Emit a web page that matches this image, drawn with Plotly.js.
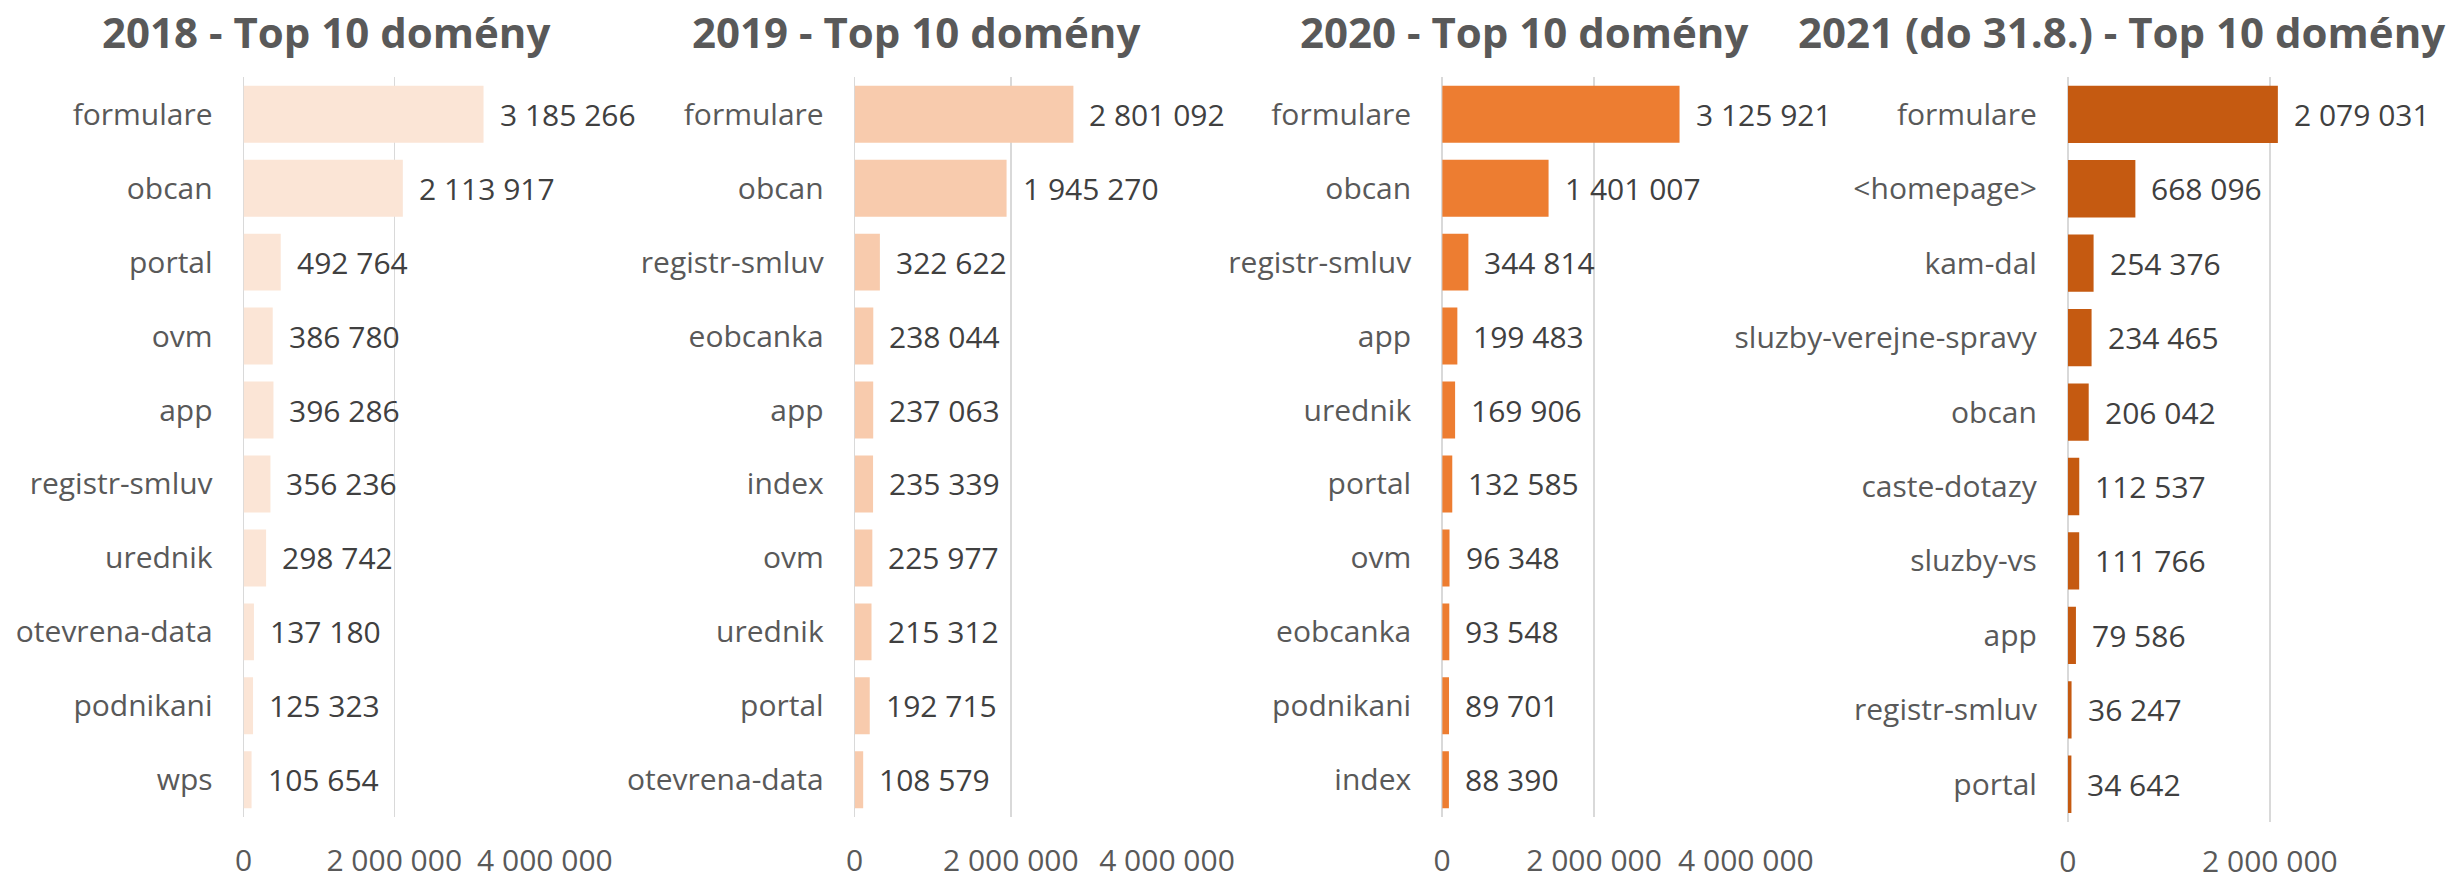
<!DOCTYPE html>
<html>
<head>
<meta charset="utf-8">
<script src="https://cdn.plot.ly/plotly-3.0.1.min.js"></script>
<style>
  html, body { margin: 0; padding: 0; background: #fff; }
  #plt1 { width: 2456px; height: 880px; }
</style>
</head>
<body>
<div id="plt1"></div>
<script>
// Data
var cats2018 = ['formulare', 'obcan', 'portal', 'ovm', 'app', 'registr-smluv', 'urednik', 'otevrena-data', 'podnikani', 'wps'];
var vals2018 = [3185266, 2113917, 492764, 386780, 396286, 356236, 298742, 137180, 125323, 105654];

var cats2019 = ['formulare', 'obcan', 'registr-smluv', 'eobcanka', 'app', 'index', 'ovm', 'urednik', 'portal', 'otevrena-data'];
var vals2019 = [2801092, 1945270, 322622, 238044, 237063, 235339, 225977, 215312, 192715, 108579];

var cats2020 = ['formulare', 'obcan', 'registr-smluv', 'app', 'urednik', 'portal', 'ovm', 'eobcanka', 'podnikani', 'index'];
var vals2020 = [3125921, 1401007, 344814, 199483, 169906, 132585, 96348, 93548, 89701, 88390];

var cats2021 = ['formulare', '<homepage>', 'kam-dal', 'sluzby-verejne-spravy', 'obcan', 'caste-dotazy', 'sluzby-vs', 'app', 'registr-smluv', 'portal'];
var vals2021 = [2079031, 668096, 254376, 234465, 206042, 112537, 111766, 79586, 36247, 34642];

var titles = ['2018 - Top 10 domény', '2019 - Top 10 domény', '2020 - Top 10 domény', '2021 (do 31.8.) - Top 10 domény'];
var barColors = ['#FBE5D6', '#F8CBAD', '#ED7D31', '#C55A11'];

var W = 2456, H = 880;
var FONT = '"Open Sans", "Noto Sans", sans-serif';

// panel geometry in pixels: [zero x, right x, top y, bottom y, axis max, tick label standoff]
var panels = [
    [243.6, 544.9, 77.3, 816.7, 4000000, 23],
    [854.7, 1167.0, 77.3, 816.7, 4000000, 23],
    [1442.2, 1745.9, 77.3, 816.7, 4000000, 23],
    [2067.9, 2456, 77.1, 821.5, 3843000, 19]
];
var titleX = [326, 916, 1524, 2121];

function fmt(v) {
    return String(v).replace(/\B(?=(\d{3})+(?!\d))/g, ' ');
}

var series = [[cats2018, vals2018], [cats2019, vals2019], [cats2020, vals2020], [cats2021, vals2021]];

var data = [];
var annotations = [];
var layout = {
    width: W, height: H,
    margin: {l: 0, r: 0, t: 0, b: 0},
    paper_bgcolor: '#fff', plot_bgcolor: '#fff',
    showlegend: false,
    bargap: 0.23,
    separators: ', ',
    font: {family: FONT, size: 30, color: '#595959'}
};

series.forEach(function (s, i) {
    var n = i === 0 ? '' : String(i + 1);
    var p = panels[i];
    data.push({
        type: 'bar', orientation: 'h',
        x: s[1], y: s[0],
        xaxis: 'x' + n, yaxis: 'y' + n,
        marker: {color: barColors[i]},
        hoverinfo: 'none'
    });
    layout['xaxis' + n] = {
        domain: [p[0] / W, p[1] / W],
        range: [0, p[4]],
        anchor: 'y' + n,
        dtick: 2000000,
        tickformat: ',d',
        showgrid: true, gridcolor: '#D9D9D9', gridwidth: 1.5,
        zeroline: true, zerolinecolor: '#D9D9D9', zerolinewidth: 1.5,
        showline: false, ticks: '',
        ticklabelstandoff: p[5],
        tickfont: {size: 30, color: '#595959', family: FONT},
        fixedrange: true
    };
    layout['yaxis' + n] = {
        domain: [1 - p[3] / H, 1 - p[2] / H],
        anchor: 'x' + n,
        type: 'category',
        autorange: 'reversed',
        showgrid: false, zeroline: false, showline: false, ticks: '',
        ticklabelstandoff: 30,
        tickfont: {size: 30, color: '#595959', family: FONT},
        fixedrange: true
    };
    s[0].forEach(function (c, k) {
        annotations.push({
            xref: 'x' + n, yref: 'y' + n,
            x: s[1][k], y: c,
            text: fmt(s[1][k]),
            showarrow: false,
            xanchor: 'left', yanchor: 'middle',
            xshift: 14,
            font: {size: 30, color: '#404040', family: FONT}
        });
    });
    annotations.push({
        xref: 'paper', yref: 'paper',
        x: titleX[i] / W, y: 1 - 31 / H,
        xanchor: 'center', yanchor: 'middle',
        text: '<b>' + titles[i] + '</b>',
        showarrow: false,
        font: {size: 42, color: '#595959', family: FONT}
    });
});

layout.annotations = annotations;

Plotly.newPlot(plt1, data, layout, {staticPlot: true, displayModeBar: false});
</script>
</body>
</html>
